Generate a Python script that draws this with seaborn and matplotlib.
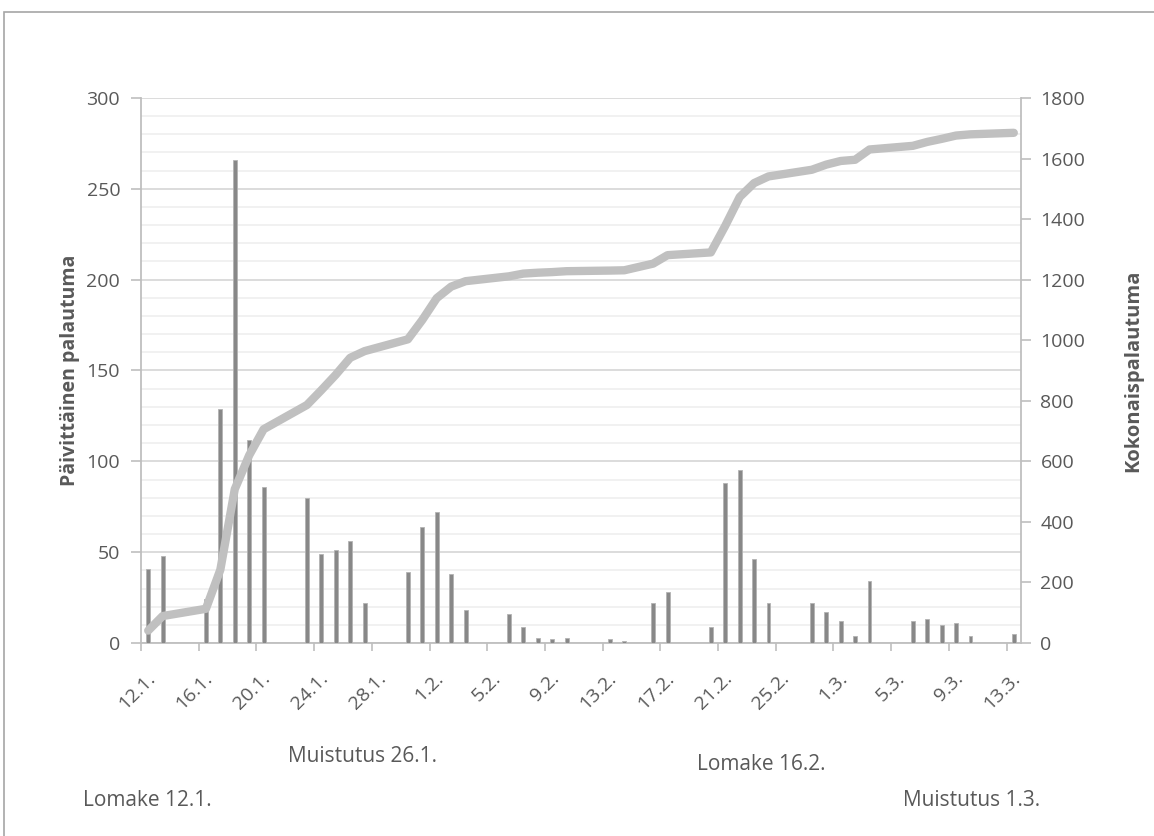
import datetime as dt
import numpy as np
import pandas as pd
import matplotlib
matplotlib.use("Agg")
import matplotlib.pyplot as plt
import matplotlib.transforms as mtransforms
from matplotlib.patches import Rectangle
from matplotlib.ticker import MultipleLocator
import seaborn as sns

# ---------------- data ----------------
bar_dates = ["12.1.", "13.1.", "16.1.", "17.1.", "18.1.", "19.1.", "20.1.",
             "23.1.", "24.1.", "25.1.", "26.1.", "27.1.", "30.1.", "31.1.",
             "1.2.", "2.2.", "3.2.", "6.2.", "7.2.", "8.2.", "9.2.", "10.2.",
             "13.2.", "14.2.", "16.2.", "17.2.", "20.2.", "21.2.", "22.2.",
             "23.2.", "24.2.", "27.2.", "28.2.", "1.3.", "2.3.", "3.3.",
             "6.3.", "7.3.", "8.3.", "9.3.", "10.3.", "13.3."]
daily = [41, 48, 24, 129, 266, 112, 86,
         80, 49, 51, 56, 22, 39, 64,
         72, 38, 18, 16, 9, 3, 2, 3,
         2, 1, 22, 28, 9, 88, 95,
         46, 22, 22, 17, 12, 4, 34,
         12, 13, 10, 11, 4, 5]
cumulative = [41, 89, 113, 242, 508, 620, 706,
              786, 835, 886, 942, 964, 1003, 1067,
              1139, 1177, 1195, 1211, 1220, 1223, 1225, 1228,
              1230, 1231, 1253, 1281, 1290, 1378, 1473,
              1519, 1541, 1563, 1580, 1592, 1596, 1630,
              1642, 1655, 1665, 1676, 1680, 1685]
tick_labels = ["12.1.", "16.1.", "20.1.", "24.1.", "28.1.", "1.2.", "5.2.", "9.2.",
               "13.2.", "17.2.", "21.2.", "25.2.", "1.3.", "5.3.", "9.3.", "13.3."]
left_label = "Päivittäinen palautuma"
right_label = "Kokonaispalautuma"
notes = [("Muistutus 26.1.", 363, 757), ("Lomake 16.2.", 761, 764),
         ("Lomake 12.1.", 147, 801), ("Muistutus 1.3.", 972, 801)]

# ---------------- helpers ----------------
YEAR = 2015
start = dt.date(YEAR, 1, 12)


def day_index(s):
    d, m = s.strip(".").split(".")
    return (dt.date(YEAR, int(m), int(d)) - start).days


df = pd.DataFrame({
    "day": [day_index(s) for s in bar_dates],
    "daily": daily,
    "cumulative": cumulative,
})
tick_pos = [day_index(s) - 0.5 for s in tick_labels]
n_days = day_index("13.3.") + 1

# ---------------- style ----------------
sns.set_style("white")
plt.rcParams["font.family"] = ["Open Sans", "DejaVu Sans"]
TXT = "#595959"
AX = "#bfbfbf"
TICK_FS = 14

W, H = 1154, 836
fig = plt.figure(figsize=(W / 100, H / 100), dpi=100)
L, R, T, B = 141, 1021, 98, 643
ax = fig.add_axes([L / W, (H - B) / H, (R - L) / W, (B - T) / H])

# bars
sns.barplot(data=df, x="day", y="daily", native_scale=True, ax=ax,
            color="#888888", saturation=1, width=0.27,
            edgecolor="#b3b3b3", linewidth=0.6, zorder=3)

ax.set_xlim(-0.5, n_days - 0.5)
ax.set_ylim(0, 300)
ax.yaxis.set_major_locator(MultipleLocator(50))
ax.yaxis.set_minor_locator(MultipleLocator(10))
ax.grid(which="major", axis="y", color="#d9d9d9", lw=1.3, zorder=0)
ax.grid(which="minor", axis="y", color="#f0f0f0", lw=1.3, zorder=0)
ax.grid(axis="x", visible=False)
ax.set_axisbelow(True)

ax.set_xticks(tick_pos)
ax.set_xticklabels(tick_labels, rotation=45, ha="right", va="center",
                   rotation_mode="anchor", fontsize=TICK_FS, color=TXT)
ax.tick_params(axis="x", which="major", direction="out", length=6, width=1.2,
               color=AX, pad=14, bottom=True)
ax.tick_params(axis="y", which="major", direction="out", length=7, width=1.2,
               color=AX, labelsize=TICK_FS, labelcolor=TXT, pad=8, left=True)
ax.tick_params(axis="y", which="minor", length=0)

for side in ["left", "bottom"]:
    ax.spines[side].set_color(AX)
    ax.spines[side].set_linewidth(1.3)
ax.spines["top"].set_visible(False)
ax.spines["right"].set_visible(False)

ax.set_xlabel("")
ax.set_ylabel(left_label, fontsize=14, fontweight="bold", color=TXT)
ax.yaxis.label.set_va("center")
ax.yaxis.set_label_coords((70 - L) / (R - L), 0.5)

# cumulative line on secondary axis
ax2 = ax.twinx()
sns.lineplot(data=df, x="day", y="cumulative", ax=ax2, color="#c0c0c0",
             linewidth=6, estimator=None, sort=True,
             solid_capstyle="round", solid_joinstyle="round", zorder=5)
ax2.set_ylim(0, 1800)
ax2.set_xlim(-0.5, n_days - 0.5)
ax2.yaxis.set_major_locator(MultipleLocator(200))
ax2.grid(False)
ax2.tick_params(axis="y", which="major", direction="out", length=7, width=1.2,
                color=AX, labelsize=TICK_FS, labelcolor=TXT, pad=7, right=True)
for side in ["left", "bottom", "top"]:
    ax2.spines[side].set_visible(False)
ax2.spines["right"].set_color(AX)
ax2.spines["right"].set_linewidth(1.3)
ax2.set_xlabel("")
ax2.set_ylabel(right_label, fontsize=14.5, fontweight="bold", color=TXT,
               rotation=90)
ax2.yaxis.label.set_va("center")
ax2.yaxis.set_label_coords((1133 - L) / (R - L), 0.5)

# shift the rotated date labels (after all tick_params calls)
offset = mtransforms.ScaledTranslation(11 / 100, -5 / 100, fig.dpi_scale_trans)
for tick in ax.xaxis.get_major_ticks():
    tick.label1.set_transform(tick.label1.get_transform() + offset)

# annotations under the chart
for txt, x, y in notes:
    fig.text(x / W, 1 - y / H, txt, ha="center", va="center",
             fontsize=15, color=TXT)

# chart-area frame
fig.patches.append(Rectangle((4 / W, -0.05), 1.2, 1.05 - 12 / H,
                             transform=fig.transFigure, fill=False,
                             edgecolor="#a6a6a6", lw=1.2))

fig.savefig("out.png", dpi=100)
